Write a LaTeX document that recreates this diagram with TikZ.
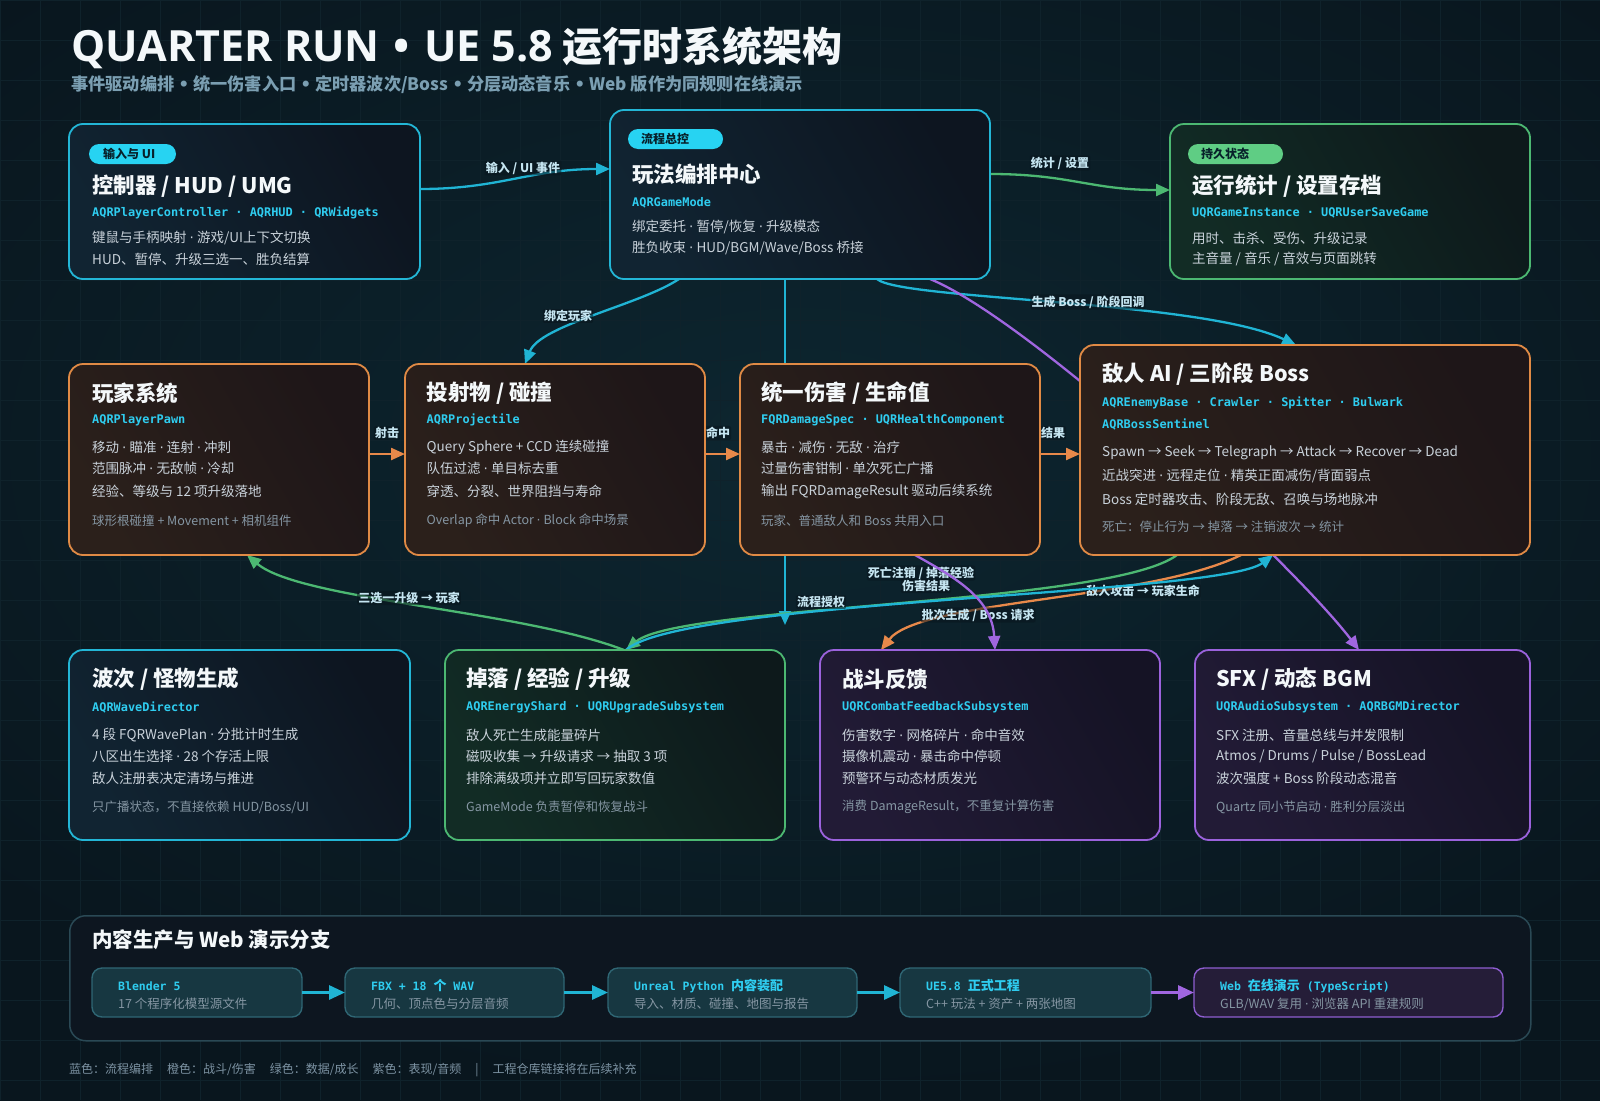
\documentclass[tikz,border=0pt]{standalone}
\usepackage{fontspec}
\setmainfont{Noto Sans CJK SC}
\newfontfamily\monof{DejaVu Sans Mono}
\newfontfamily\dotfont{DejaVu Sans}
\newfontfamily\latf{Open Sans}
\usetikzlibrary{arrows.meta,calc}
\pgfdeclarelayer{bglayer}
\pgfdeclarelayer{edgelayer}
\pgfsetlayers{bglayer,edgelayer,main}

\definecolor{bgc}{HTML}{09161E}
\definecolor{bgmid}{HTML}{0D2630}
\definecolor{gridc}{HTML}{0F222B}
\definecolor{titlec}{HTML}{F4F8FA}
\definecolor{subc}{HTML}{7B9FB2}
\definecolor{monoc}{HTML}{2FCDF0}
\definecolor{bodyc}{HTML}{C9D2DA}
\definecolor{footc}{HTML}{8596A3}
\definecolor{lblc}{HTML}{C6E6F2}
\definecolor{pilltc}{HTML}{07202A}
\definecolor{pillcy}{HTML}{27D3F2}
\definecolor{pillgr}{HTML}{5FCD84}
\definecolor{cyanb}{HTML}{23B6D6}
\definecolor{orangeb}{HTML}{E08A45}
\definecolor{greenb}{HTML}{4CB872}
\definecolor{purpleb}{HTML}{9B62DC}
\definecolor{cyanl}{HTML}{20B4D4}
\definecolor{orangel}{HTML}{E8894A}
\definecolor{greenl}{HTML}{4CB872}
\definecolor{purplel}{HTML}{A066E0}
\definecolor{cyf1}{HTML}{112432}
\definecolor{cyf2}{HTML}{0D1520}
\definecolor{orf1}{HTML}{2B201B}
\definecolor{orf2}{HTML}{1E1618}
\definecolor{grf1}{HTML}{122C25}
\definecolor{grf2}{HTML}{0D191B}
\definecolor{puf1}{HTML}{221B36}
\definecolor{puf2}{HTML}{151325}
\definecolor{panelf}{HTML}{0D1620}
\definecolor{panelb}{HTML}{2A4955}
\definecolor{sboxf}{HTML}{173741}
\definecolor{sboxb}{HTML}{2F6674}
\definecolor{webf}{HTML}{251D38}
\definecolor{webb}{HTML}{8E5ED0}
\definecolor{legc}{HTML}{7D93A3}

\tikzset{
  qbox/.style n args={3}{draw=#1, line width=1.8pt, rounded corners=14pt,
    left color=#2, right color=#3, shading angle=120,
    anchor=north west, inner sep=0pt, outer sep=0pt},
  pillbox/.style={fill=#1, rounded corners=10pt, anchor=north west,
    inner sep=0pt, outer sep=0pt, minimum height=20pt},
  pillt/.style={anchor=west, inner sep=0pt, text=pilltc,
    font=\fontsize{12}{14}\selectfont\bfseries},
  ttl/.style={anchor=west, inner sep=0pt, text=titlec,
    font=\fontsize{21.5}{25}\selectfont\bfseries},
  monot/.style={anchor=west, inner sep=0pt, text=monoc,
    font=\monof\fontsize{11.9}{14}\selectfont\bfseries},
  bodyt/.style={anchor=west, inner sep=0pt, text=bodyc,
    font=\fontsize{13.5}{16}\selectfont},
  foott/.style={anchor=west, inner sep=0pt, text=footc,
    font=\fontsize{12.5}{15}\selectfont},
  lbl/.style={inner sep=1.2pt, text=lblc, font=\fontsize{12}{14}\selectfont\bfseries,
    fill=bgc, fill opacity=0.55, text opacity=1, rounded corners=2pt},
  conn/.style={draw=#1, line width=2.3pt, -{Triangle[length=14pt,width=12pt]}},
  sconn/.style={draw=#1, line width=3pt, -{Triangle[length=16pt,width=14pt]}},
  sbox/.style 2 args={draw=#1, fill=#2, line width=1.4pt, rounded corners=10pt,
    anchor=north west, inner sep=0pt, outer sep=0pt, minimum height=49pt},
  smono/.style={anchor=west, inner sep=0pt, text=monoc,
    font=\monof\fontsize{11.5}{13}\selectfont\bfseries},
  sgray/.style={anchor=west, inner sep=0pt, text=footc,
    font=\fontsize{12.5}{15}\selectfont},
}
\newcommand{\cj}[1]{{\rmfamily\fontsize{13}{15}\selectfont #1}}
\newcommand{\dt}{{\dotfont ·}}
\newcommand{\bt}{{\dotfont •}}

\begin{document}
\begin{tikzpicture}[x=1pt,y=-1pt]
\useasboundingbox (0,0) rectangle (1600,1100);

\begin{pgfonlayer}{bglayer}
  \fill[bgc] (0,0) rectangle (1600,1100);
  \shade[inner color=bgmid, outer color=bgc] (-300,-200) rectangle (1900,1100);
  \foreach \i in {0,40,...,1600} \draw[gridc, line width=0.6pt] (\i,0) -- (\i,1100);
  \foreach \j in {0,40,...,1100} \draw[gridc, line width=0.6pt] (0,\j) -- (1600,\j);
\end{pgfonlayer}

% ---------- title ----------
\node[anchor=west, inner sep=0pt, text=titlec, font=\fontsize{40}{46}\selectfont\bfseries]
  (title) at (71,48) {{\latf\fontsize{43}{48}\selectfont QUARTER RUN\hspace{14pt}•\hspace{14pt}UE 5.8} 运行时系统架构};
\node[anchor=west, inner sep=0pt, text=subc, font=\fontsize{17.2}{20}\selectfont\bfseries]
  (subtitle) at (71,85) {事件驱动编排 \bt{} 统一伤害入口 \bt{} 定时器波次/Boss \bt{} 分层动态音乐 \bt{} Web 版作为同规则在线演示};

% ---------- row 1 ----------
\node[qbox={cyanb}{cyf1}{cyf2}, minimum width=351pt, minimum height=155pt] (ctrl) at (69,124) {};
\node[pillbox=pillcy, minimum width=87pt] (ctrlp) at (89,144) {};
\node[pillt] (ctrlpt) at (103,154) {输入与 UI};
\node[ttl] (ctrlt) at (92,186) {控制器 / HUD / UMG};
\node[monot] (ctrlm) at (92,213) {AQRPlayerController · AQRHUD · QRWidgets};
\node[bodyt] (ctrlb1) at (92,238) {键鼠与手柄映射 \dt{} 游戏/UI上下文切换};
\node[bodyt] (ctrlb2) at (92,259) {HUD、暂停、升级三选一、胜负结算};

\node[qbox={cyanb}{cyf1}{cyf2}, minimum width=380pt, minimum height=169pt] (gm) at (610,110) {};
\node[pillbox=pillcy, minimum width=95pt] (gmp) at (628,129) {};
\node[pillt] (gmpt) at (641,139) {流程总控};
\node[ttl] (gmt) at (632,174.5) {玩法编排中心};
\node[monot] (gmm) at (632,203) {AQRGameMode};
\node[bodyt] (gmb1) at (632,226.5) {绑定委托 \dt{} 暂停/恢复 \dt{} 升级模态};
\node[bodyt] (gmb2) at (632,248) {胜负收束 \dt{} HUD/BGM/Wave/Boss 桥接};

\node[qbox={greenb}{grf1}{grf2}, minimum width=360pt, minimum height=155pt] (stats) at (1170,124) {};
\node[pillbox=pillgr, minimum width=95pt] (statsp) at (1188,144) {};
\node[pillt] (statspt) at (1201,154) {持久状态};
\node[ttl] (statst) at (1192,186) {运行统计 / 设置存档};
\node[monot] (statsm) at (1192,213) {UQRGameInstance · UQRUserSaveGame};
\node[bodyt] (statsb1) at (1192,238) {用时、击杀、受伤、升级记录};
\node[bodyt] (statsb2) at (1192,259) {主音量 / 音乐 / 音效与页面跳转};

% ---------- row 2 ----------
\node[qbox={orangeb}{orf1}{orf2}, minimum width=300pt, minimum height=191pt] (player) at (69,364) {};
\node[ttl] (playert) at (92,393) {玩家系统};
\node[monot] (playerm) at (92,420) {AQRPlayerPawn};
\node[bodyt] (playerb1) at (92,447) {移动 \dt{} 瞄准 \dt{} 连射 \dt{} 冲刺};
\node[bodyt] (playerb2) at (92,468.5) {范围脉冲 \dt{} 无敌帧 \dt{} 冷却};
\node[bodyt] (playerb3) at (92,491) {经验、等级与 12 项升级落地};
\node[foott] (playerf) at (92,520.5) {球形根碰撞 + Movement + 相机组件};

\node[qbox={orangeb}{orf1}{orf2}, minimum width=300pt, minimum height=191pt] (proj) at (405,364) {};
\node[ttl] (projt) at (426.5,393) {投射物 / 碰撞};
\node[monot] (projm) at (426.5,420) {AQRProjectile};
\node[bodyt] (projb1) at (426.5,447) {Query Sphere + CCD 连续碰撞};
\node[bodyt] (projb2) at (426.5,468.5) {队伍过滤 \dt{} 单目标去重};
\node[bodyt] (projb3) at (426.5,491) {穿透、分裂、世界阻挡与寿命};
\node[foott] (projf) at (426.5,520.5) {Overlap 命中 Actor \dt{} Block 命中场景};

\node[qbox={orangeb}{orf1}{orf2}, minimum width=300pt, minimum height=191pt] (dmg) at (740,364) {};
\node[ttl] (dmgt) at (761,393) {统一伤害 / 生命值};
\node[monot] (dmgm) at (761,420) {FQRDamageSpec · UQRHealthComponent};
\node[bodyt] (dmgb1) at (761,447) {暴击 \dt{} 减伤 \dt{} 无敌 \dt{} 治疗};
\node[bodyt] (dmgb2) at (761,468.5) {过量伤害钳制 \dt{} 单次死亡广播};
\node[bodyt] (dmgb3) at (761,491) {输出 FQRDamageResult 驱动后续系统};
\node[foott] (dmgf) at (761,520.5) {玩家、普通敌人和 Boss 共用入口};

\node[qbox={orangeb}{orf1}{orf2}, minimum width=450pt, minimum height=210pt] (enemy) at (1080,345) {};
\node[ttl] (enemyt) at (1102,374.5) {敌人 AI / 三阶段 Boss};
\node[monot] (enemym1) at (1102,403) {AQREnemyBase · Crawler · Spitter · Bulwark};
\node[monot] (enemym2) at (1102,424.5) {AQRBossSentinel};
\node[bodyt] (enemyb1) at (1102,453) {Spawn → Seek → Telegraph → Attack → Recover → Dead};
\node[bodyt] (enemyb2) at (1102,475.5) {近战突进 \dt{} 远程走位 \dt{} 精英正面减伤/背面弱点};
\node[bodyt] (enemyb3) at (1102,499) {Boss 定时器攻击、阶段无敌、召唤与场地脉冲};
\node[foott] (enemyf) at (1102,526.5) {死亡：停止行为 → 掉落 → 注销波次 → 统计};

% ---------- row 3 ----------
\node[qbox={cyanb}{cyf1}{cyf2}, minimum width=341pt, minimum height=190pt] (wave) at (69,650) {};
\node[ttl] (wavet) at (92,679.5) {波次 / 怪物生成};
\node[monot] (wavem) at (92,707) {AQRWaveDirector};
\node[bodyt] (waveb1) at (92,735) {4 段 FQRWavePlan \dt{} 分批计时生成};
\node[bodyt] (waveb2) at (92,756) {八区出生选择 \dt{} 28 个存活上限};
\node[bodyt] (waveb3) at (92,778.5) {敌人注册表决定清场与推进};
\node[foott] (wavef) at (92,807) {只广播状态，不直接依赖 HUD/Boss/UI};

\node[qbox={greenb}{grf1}{grf2}, minimum width=340pt, minimum height=190pt] (drop) at (445,650) {};
\node[ttl] (dropt) at (466,679.5) {掉落 / 经验 / 升级};
\node[monot] (dropm) at (466,707) {AQREnergyShard · UQRUpgradeSubsystem};
\node[bodyt] (dropb1) at (466,735) {敌人死亡生成能量碎片};
\node[bodyt] (dropb2) at (466,756) {磁吸收集 → 升级请求 → 抽取 3 项};
\node[bodyt] (dropb3) at (466,778.5) {排除满级项并立即写回玩家数值};
\node[foott] (dropf) at (466,807) {GameMode 负责暂停和恢复战斗};

\node[qbox={purpleb}{puf1}{puf2}, minimum width=340pt, minimum height=190pt] (combat) at (820,650) {};
\node[ttl] (combatt) at (842,679.5) {战斗反馈};
\node[monot] (combatm) at (842,707) {UQRCombatFeedbackSubsystem};
\node[bodyt] (combatb1) at (842,735) {伤害数字 \dt{} 网格碎片 \dt{} 命中音效};
\node[bodyt] (combatb2) at (842,756) {摄像机震动 \dt{} 暴击命中停顿};
\node[bodyt] (combatb3) at (842,778.5) {预警环与动态材质发光};
\node[foott] (combatf) at (842,807) {消费 DamageResult，不重复计算伤害};

\node[qbox={purpleb}{puf1}{puf2}, minimum width=335pt, minimum height=190pt] (sfx) at (1195,650) {};
\node[ttl] (sfxt) at (1216,679.5) {SFX / 动态 BGM};
\node[monot] (sfxm) at (1216,707) {UQRAudioSubsystem · AQRBGMDirector};
\node[bodyt] (sfxb1) at (1216,735) {SFX 注册、音量总线与并发限制};
\node[bodyt] (sfxb2) at (1216,756) {Atmos / Drums / Pulse / BossLead};
\node[bodyt] (sfxb3) at (1216,778.5) {波次强度 + Boss 阶段动态混音};
\node[foott] (sfxf) at (1216,807) {Quartz 同小节启动 \dt{} 胜利分层淡出};

% ---------- bottom panel ----------
\node[draw=panelb, fill=panelf, line width=1.5pt, rounded corners=16pt, anchor=north west,
  inner sep=0pt, minimum width=1461pt, minimum height=125pt] (panel) at (69,915) {};
\node[anchor=west, inner sep=0pt, text=titlec, font=\fontsize{20.5}{24}\selectfont\bfseries]
  (panelt) at (92,940) {内容生产与 Web 演示分支};

\node[sbox={sboxb}{sboxf}, minimum width=210pt] (s1) at (92,968) {};
\node[smono] (s1a) at (118,986) {Blender 5};
\node[sgray] (s1b) at (118,1004) {17 个程序化模型源文件};

\node[sbox={sboxb}{sboxf}, minimum width=219pt] (s2) at (345,968) {};
\node[smono] (s2a) at (371,986) {FBX + 18 \cj{个} WAV};
\node[sgray] (s2b) at (371,1004) {几何、顶点色与分层音频};

\node[sbox={sboxb}{sboxf}, minimum width=249pt] (s3) at (608,968) {};
\node[smono] (s3a) at (634,986) {Unreal Python \cj{内容装配}};
\node[sgray] (s3b) at (634,1004) {导入、材质、碰撞、地图与报告};

\node[sbox={sboxb}{sboxf}, minimum width=251pt] (s4) at (900,968) {};
\node[smono] (s4a) at (926,986) {UE5.8 \cj{正式工程}};
\node[sgray] (s4b) at (926,1004) {C++ 玩法 + 资产 + 两张地图};

\node[sbox={webb}{webf}, minimum width=309pt] (s5) at (1194,968) {};
\node[smono] (s5a) at (1220,986) {Web \cj{在线演示} (TypeScript)};
\node[sgray] (s5b) at (1220,1004) {GLB/WAV 复用 \dt{} 浏览器 API 重建规则};

\draw[sconn=cyanl] (s1.east) -- (s2.west);
\draw[sconn=cyanl] (s2.east) -- (s3.west);
\draw[sconn=cyanl] (s3.east) -- (s4.west);
\draw[sconn=purplel] (s4.east) -- (s5.west);

\node[anchor=west, inner sep=0pt, text=legc, font=\fontsize{12}{14}\selectfont] (legend) at (69,1070)
  {蓝色：流程编排\hspace{14pt}橙色：战斗/伤害\hspace{14pt}绿色：数据/成长\hspace{14pt}紫色：表现/音频\hspace{14pt}|\hspace{14pt}工程仓库链接将在后续补充};

% ---------- connectors ----------
\coordinate (flowend) at (785,625);
\begin{pgfonlayer}{edgelayer}
  \draw[conn=cyanl] ($(ctrl.north east)+(0,65)$) .. controls (500,189) and (530,169) .. ($(gm.north west)+(0,59)$);
  \node[lbl] (l1) at (523,168) {输入 / UI 事件};

  \draw[conn=greenl] ($(gm.north east)+(0,64)$) .. controls (1070,174) and (1090,190) .. ($(stats.north west)+(0,66)$);
  \node[lbl] (l2) at (1060,163) {统计 / 设置};

  \draw[conn=cyanl] ($(gm.south west)+(69,0)$) .. controls (640,305) and (540,325) .. ($(proj.north west)+(120,0)$);
  \node[lbl] (l3) at (568,316) {绑定玩家};

  \draw[conn=cyanl] ($(gm.south west)+(267,0)$) .. controls (900,300) and (1200,300) .. ($(enemy.north west)+(216,0)$);
  \node[lbl] (l4) at (1088,302) {生成 Boss / 阶段回调};

  \draw[conn=purplel] ($(gm.south west)+(320,0)$) .. controls (1030,320) and (1290,560) .. ($(sfx.north west)+(164,0)$);

  \draw[conn=cyanl] ($(gm.south west)+(175,0)$) -- (flowend);

  \draw[conn=orangel] ($(player.north east)+(0,90)$) -- ($(proj.north west)+(0,90)$);
  \node[lbl] (l5) at (387,433) {射击};
  \draw[conn=orangel] ($(proj.north east)+(0,90)$) -- ($(dmg.north west)+(0,90)$);
  \node[lbl] (l6) at (718,433) {命中};
  \draw[conn=orangel] ($(dmg.north east)+(0,90)$) -- ($(enemy.north west)+(0,109)$);
  \node[lbl] (l7) at (1053,433) {结果};

  \draw[conn=greenl] ($(drop.north west)+(179,0)$) .. controls (520,610) and (300,600) .. ($(player.south west)+(178,0)$);
  \node[lbl] (l8) at (409,598) {三选一升级 → 玩家};

  \draw[conn=orangel] ($(enemy.south west)+(161,0)$) .. controls (1150,600) and (920,600) .. ($(combat.north west)+(61,0)$);
  \node[lbl] (l9) at (1143,591) {敌人攻击 → 玩家生命};
  \node[lbl] (l10) at (978,615) {批次生成 / Boss 请求};

  \draw[conn=greenl] ($(enemy.south west)+(97,0)$) .. controls (1110,605) and (680,605) .. ($(drop.north west)+(181,0)$);
  \draw[conn=cyanl] ($(drop.north west)+(181,0)$) .. controls (680,600) and (1220,595) .. ($(enemy.south west)+(193,0)$);
  \node[lbl] (l11) at (821,602) {流程授权};
  \node[lbl] (l12) at (921,573) {死亡注销 / 掉落经验};
  \node[lbl] (l13) at (926,586) {伤害结果};

  \draw[conn=purplel] ($(dmg.south west)+(175,0)$) .. controls (960,580) and (992,600) .. ($(combat.north west)+(175,0)$);
\end{pgfonlayer}
\end{tikzpicture}
\end{document}
